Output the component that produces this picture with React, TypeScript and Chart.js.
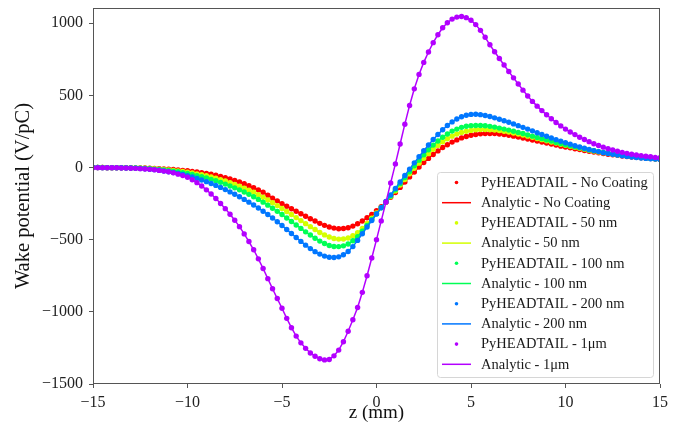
import React, { useEffect, useRef } from 'react';
import { Chart, registerables } from 'chart.js';

Chart.register(...registerables);

// z positions (mm)
const zPositions = [
  -15, -14.75, -14.5, -14.25, -14, -13.75, -13.5, -13.25, -13, -12.75, -12.5, -12.25,
  -12, -11.75, -11.5, -11.25, -11, -10.75, -10.5, -10.25, -10, -9.75, -9.5, -9.25,
  -9, -8.75, -8.5, -8.25, -8, -7.75, -7.5, -7.25, -7, -6.75, -6.5, -6.25,
  -6, -5.75, -5.5, -5.25, -5, -4.75, -4.5, -4.25, -4, -3.75, -3.5, -3.25,
  -3, -2.75, -2.5, -2.25, -2, -1.75, -1.5, -1.25, -1, -0.75, -0.5, -0.25,
  0, 0.25, 0.5, 0.75, 1, 1.25, 1.5, 1.75, 2, 2.25, 2.5, 2.75,
  3, 3.25, 3.5, 3.75, 4, 4.25, 4.5, 4.75, 5, 5.25, 5.5, 5.75,
  6, 6.25, 6.5, 6.75, 7, 7.25, 7.5, 7.75, 8, 8.25, 8.5, 8.75,
  9, 9.25, 9.5, 9.75, 10, 10.25, 10.5, 10.75, 11, 11.25, 11.5, 11.75,
  12, 12.25, 12.5, 12.75, 13, 13.25, 13.5, 13.75, 14, 14.25, 14.5, 14.75,
  15,
];

// Wake potential (V/pC)
const wakeNoCoating = [
  0, 0, 0, -1, -1, -1, -1, -2, -2, -3, -3, -4,
  -5, -6, -8, -10, -12, -14, -17, -20, -23, -27, -31, -36,
  -41, -47, -54, -62, -70, -80, -90, -101, -113, -126, -140, -156,
  -172, -192, -213, -231, -250, -268, -286, -303, -320, -338, -355, -371,
  -387, -401, -412, -420, -424, -423, -417, -406, -390, -371, -348, -325,
  -300, -272, -241, -207, -174, -138, -101, -65, -31, 3, 34, 63,
  90, 115, 138, 158, 176, 191, 205, 215, 223, 229, 233, 235,
  236, 235, 232, 228, 223, 217, 211, 204, 197, 190, 183, 176,
  169, 162, 155, 148, 142, 136, 130, 124, 118, 112, 107, 102,
  97, 92, 88, 84, 80, 76, 73, 70, 67, 64, 62, 59,
  57,
];

const wake50nm = [
  0, 0, 0, -1, -1, -1, -1, -2, -3, -3, -4, -5,
  -7, -9, -11, -14, -17, -20, -24, -28, -33, -38, -44, -50,
  -57, -65, -74, -84, -94, -105, -117, -130, -143, -157, -172, -189,
  -206, -225, -244, -264, -284, -305, -326, -347, -368, -389, -410, -430,
  -450, -467, -482, -492, -496, -495, -488, -473, -452, -422, -388, -352,
  -315, -278, -240, -201, -162, -122, -83, -44, -6, 30, 64, 96,
  126, 153, 178, 199, 217, 232, 243, 251, 257, 261, 263, 263,
  262, 259, 256, 251, 246, 239, 232, 225, 217, 209, 201, 193,
  185, 177, 169, 161, 154, 147, 140, 133, 127, 120, 114, 108,
  103, 98, 93, 88, 84, 80, 76, 72, 69, 66, 63, 60,
  58,
];

const wake100nm = [
  0, 0, 0, -1, -1, -1, -2, -2, -3, -4, -5, -7,
  -9, -11, -14, -17, -21, -25, -30, -36, -42, -49, -56, -64,
  -72, -82, -92, -103, -115, -128, -141, -155, -170, -186, -203, -221,
  -240, -261, -282, -304, -326, -350, -374, -398, -422, -446, -468, -490,
  -510, -527, -540, -547, -548, -543, -530, -508, -480, -442, -401, -360,
  -320, -279, -238, -197, -155, -112, -70, -29, 12, 51, 88, 123,
  155, 184, 210, 232, 252, 266, 278, 286, 290, 291, 291, 289,
  285, 280, 273, 266, 259, 251, 243, 235, 226, 217, 208, 200,
  191, 183, 174, 166, 158, 150, 143, 136, 129, 122, 116, 110,
  104, 98, 93, 88, 84, 80, 76, 72, 69, 66, 63, 60,
  58,
];

const wake200nm = [
  0, 0, -1, -1, -1, -2, -2, -3, -4, -5, -7, -9,
  -12, -15, -19, -24, -29, -35, -42, -49, -57, -66, -76, -87,
  -98, -111, -124, -138, -153, -169, -185, -203, -221, -240, -260, -281,
  -303, -326, -350, -376, -402, -430, -457, -485, -512, -538, -562, -583,
  -600, -614, -622, -624, -619, -605, -582, -548, -505, -459, -412, -367,
  -322, -279, -235, -190, -145, -100, -55, -11, 32, 74, 116, 156,
  194, 229, 262, 291, 316, 336, 352, 362, 368, 369, 366, 360,
  353, 344, 334, 324, 313, 302, 290, 278, 266, 254, 241, 229,
  216, 204, 193, 182, 171, 161, 151, 142, 133, 125, 117, 110,
  103, 97, 91, 86, 81, 77, 73, 69, 66, 63, 60, 58,
  56,
];

const wake1um = [
  -1, -1, -1, -2, -2, -2, -3, -4, -5, -6, -8, -10,
  -13, -16, -20, -25, -30, -37, -46, -56, -68, -85, -105, -128,
  -155, -184, -215, -249, -285, -324, -365, -410, -460, -513, -570, -633,
  -700, -770, -840, -908, -975, -1045, -1110, -1168, -1215, -1253, -1285, -1308,
  -1325, -1333, -1330, -1305, -1265, -1207, -1135, -1055, -970, -865, -750, -627,
  -500, -370, -240, -107, 25, 163, 300, 430, 545, 645, 728, 800,
  865, 920, 968, 1003, 1028, 1042, 1046, 1038, 1020, 990, 950, 902,
  850, 802, 755, 710, 665, 621, 578, 536, 495, 458, 425, 394,
  365, 338, 312, 288, 266, 246, 228, 210, 194, 179, 165, 152,
  141, 130, 121, 113, 105, 98, 92, 87, 82, 78, 74, 70,
  67,
];

const seriesNames = ['No Coating', '50 nm', '100 nm', '200 nm', '1\u03bcm'];
const seriesValues = [wakeNoCoating, wake50nm, wake100nm, wake200nm, wake1um];
const seriesColors = ['#ff0000', '#d4ff00', '#00ff55', '#0077ff', '#b300ff'];

const xTickValues = [-15, -10, -5, 0, 5, 10, 15];
const yTickValues = [-1500, -1000, -500, 0, 500, 1000];

const FONT = '"Liberation Serif", "DejaVu Serif", serif';
const AXIS_COLOR = '#555555';

const fmt = (v: number) => (v < 0 ? '\u2212' + Math.abs(v) : String(v));

const frameAndLegend = {
  id: 'frameAndLegend',
  afterDraw(chart: any) {
    const { ctx, chartArea } = chart;
    ctx.save();
    // axes frame
    ctx.strokeStyle = AXIS_COLOR;
    ctx.lineWidth = 1;
    const l = Math.round(chartArea.left) + 0.5;
    const t = Math.round(chartArea.top) + 0.5;
    const r = Math.round(chartArea.right) - 0.5;
    const b = Math.round(chartArea.bottom) - 0.5;
    ctx.strokeRect(l, t, r - l, b - t);

    // legend box
    const bx = 437.5, by = 172.5, bw = 216, bh = 205;
    const rad = 3;
    ctx.beginPath();
    ctx.moveTo(bx + rad, by);
    ctx.lineTo(bx + bw - rad, by);
    ctx.quadraticCurveTo(bx + bw, by, bx + bw, by + rad);
    ctx.lineTo(bx + bw, by + bh - rad);
    ctx.quadraticCurveTo(bx + bw, by + bh, bx + bw - rad, by + bh);
    ctx.lineTo(bx + rad, by + bh);
    ctx.quadraticCurveTo(bx, by + bh, bx, by + bh - rad);
    ctx.lineTo(bx, by + rad);
    ctx.quadraticCurveTo(bx, by, bx + rad, by);
    ctx.closePath();
    ctx.fillStyle = 'rgba(255,255,255,0.8)';
    ctx.fill();
    ctx.strokeStyle = '#d6d6d6';
    ctx.stroke();

    const items = chart.data.datasets;
    ctx.font = '14.5px ' + FONT;
    ctx.textBaseline = 'middle';
    ctx.textAlign = 'left';
    items.forEach((ds: any, i: number) => {
      const y = 182.5 + i * 20.2;
      if (ds.showLine) {
        ctx.strokeStyle = ds.borderColor;
        ctx.lineWidth = 1.5;
        ctx.beginPath();
        ctx.moveTo(442, y);
        ctx.lineTo(471, y);
        ctx.stroke();
      } else {
        ctx.fillStyle = ds.pointBackgroundColor;
        ctx.beginPath();
        ctx.arc(456.5, y, 1.8, 0, Math.PI * 2);
        ctx.fill();
      }
      ctx.fillStyle = '#1a1a1a';
      ctx.fillText(ds.label, 481, y + 0.5);
    });
    ctx.restore();
  },
};

export default function App() {
  const canvasRef = useRef<HTMLCanvasElement | null>(null);

  useEffect(() => {
    if (!canvasRef.current) return;
    const datasets: any[] = [];
    seriesNames.forEach((name, i) => {
      const pts = zPositions.map((z, k) => ({ x: z, y: seriesValues[i][k] }));
      datasets.push({
        label: 'PyHEADTAIL - ' + name,
        data: pts,
        showLine: false,
        pointRadius: 2.7,
        pointHoverRadius: 2.7,
        pointBorderWidth: 0,
        pointBackgroundColor: seriesColors[i],
        backgroundColor: seriesColors[i],
        borderColor: seriesColors[i],
        order: 20 - 2 * i,
      });
      datasets.push({
        label: 'Analytic - ' + name,
        data: pts,
        showLine: true,
        pointRadius: 0,
        borderWidth: 1.5,
        borderColor: seriesColors[i],
        backgroundColor: seriesColors[i],
        tension: 0,
        order: 19 - 2 * i,
      });
    });

    const chart = new Chart(canvasRef.current, {
      type: 'scatter',
      data: { datasets },
      options: {
        animation: false,
        responsive: true,
        maintainAspectRatio: false,
        layout: { padding: { top: 8, right: 34, left: 0, bottom: 0 } },
        plugins: { legend: { display: false }, tooltip: { enabled: false } },
        scales: {
          x: {
            type: 'linear',
            min: -15,
            max: 15,
            afterBuildTicks: (s: any) => {
              s.ticks = xTickValues.map((v) => ({ value: v }));
            },
            afterFit: (s: any) => {
              s.height = 49;
              s.paddingLeft = 0;
              s.paddingRight = 0;
            },
            ticks: {
              font: { family: FONT, size: 16 },
              color: '#222',
              padding: 5,
              maxRotation: 0,
              callback: (v: any) => fmt(Number(v)),
            },
            grid: {
              display: true,
              drawOnChartArea: false,
              drawTicks: true,
              tickLength: 4,
              color: AXIS_COLOR,
            },
            border: { display: false },
            title: {
              display: true,
              text: 'z (mm)',
              font: { family: FONT, size: 19 },
              color: '#111',
              padding: { top: 0, bottom: 9 },
            },
          },
          y: {
            type: 'linear',
            min: -1500,
            max: 1105,
            afterBuildTicks: (s: any) => {
              s.ticks = yTickValues.map((v) => ({ value: v }));
            },
            afterFit: (s: any) => {
              s.width = 93;
              s.paddingTop = 0;
              s.paddingBottom = 0;
            },
            ticks: {
              font: { family: FONT, size: 16 },
              color: '#222',
              padding: 6,
              callback: (v: any) => fmt(Number(v)),
            },
            grid: {
              display: true,
              drawOnChartArea: false,
              drawTicks: true,
              tickLength: 4,
              color: AXIS_COLOR,
            },
            border: { display: false },
            title: {
              display: true,
              text: 'Wake potential (V/pC)',
              font: { family: FONT, size: 20.5 },
              color: '#111',
              padding: { top: 11, bottom: 0 },
            },
          },
        },
      },
      plugins: [frameAndLegend],
    });
    return () => chart.destroy();
  }, []);

  return (
    <div style={{ position: 'fixed', left: 0, top: 0, width: 694, height: 433, background: '#fff' }}>
      <canvas ref={canvasRef} />
    </div>
  );
}
